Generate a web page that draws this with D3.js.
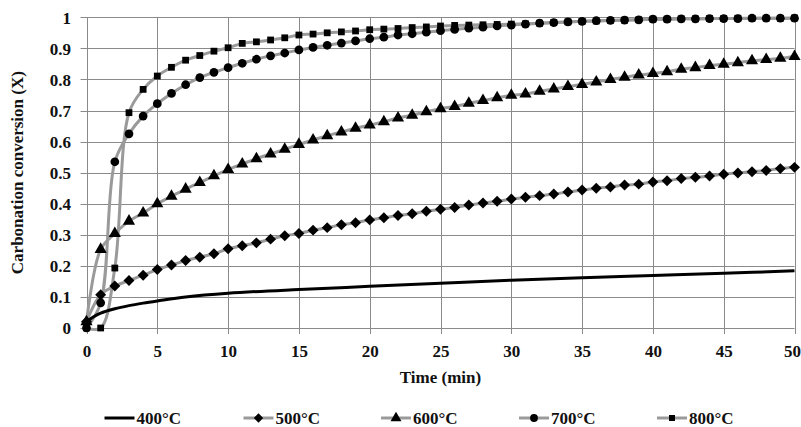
<!DOCTYPE html>
<html>
<head>
<meta charset="utf-8">
<script src="https://cdn.jsdelivr.net/npm/d3@7"></script>
<style>
  html, body { margin: 0; padding: 0; background: #fff; }
  svg { display: block; }
  text { font-family: "Liberation Serif", "Times New Roman", serif; font-weight: bold; fill: #111; }
</style>
</head>
<body>
<svg id="chart" width="801" height="427"></svg>
<script>
// Time axis (min) shared by the marker series, one reading per minute
const minutes = d3.range(0, 51);

// 400 °C is drawn as a plain smooth line; its readings are at these times
const times400 = [0, 0.5, 1, 2, 3, 4, 5, 7, 10, 15, 20, 25, 30, 35, 40, 45, 50];
const conv400 = [0.02, 0.036, 0.048, 0.062, 0.072, 0.080, 0.087, 0.100, 0.112, 0.124, 0.134, 0.144, 0.154, 0.162, 0.169, 0.176, 0.184];

const conv500 = [0.02, 0.107, 0.135, 0.153, 0.170, 0.188, 0.203, 0.217, 0.228, 0.239, 0.255,
  0.265, 0.274, 0.286, 0.297, 0.304, 0.315, 0.323, 0.332, 0.339, 0.348,
  0.355, 0.362, 0.368, 0.376, 0.382, 0.388, 0.396, 0.402, 0.408, 0.415,
  0.421, 0.426, 0.431, 0.438, 0.444, 0.450, 0.454, 0.460, 0.463, 0.470,
  0.474, 0.481, 0.485, 0.489, 0.495, 0.499, 0.503, 0.507, 0.513, 0.517];

const conv600 = [0.02, 0.253, 0.304, 0.344, 0.370, 0.400, 0.424, 0.447, 0.468, 0.490, 0.510,
  0.528, 0.545, 0.560, 0.575, 0.591, 0.605, 0.619, 0.631, 0.643, 0.653,
  0.664, 0.676, 0.685, 0.696, 0.706, 0.713, 0.723, 0.732, 0.741, 0.749,
  0.753, 0.762, 0.769, 0.777, 0.784, 0.792, 0.800, 0.807, 0.814, 0.819,
  0.825, 0.833, 0.838, 0.845, 0.849, 0.854, 0.860, 0.864, 0.868, 0.874];

const conv700 = [0, 0.081, 0.535, 0.625, 0.682, 0.722, 0.755, 0.783, 0.806, 0.823, 0.838,
  0.852, 0.865, 0.876, 0.885, 0.895, 0.903, 0.910, 0.917, 0.924, 0.931,
  0.936, 0.943, 0.947, 0.952, 0.957, 0.961, 0.965, 0.968, 0.972, 0.975,
  0.978, 0.981, 0.983, 0.985, 0.987, 0.989, 0.990, 0.991, 0.992, 0.994,
  0.994, 0.995, 0.995, 0.996, 0.996, 0.996, 0.997, 0.997, 0.997, 0.997];

const conv800 = [0, 0, 0.193, 0.693, 0.768, 0.811, 0.839, 0.862, 0.877, 0.891, 0.902,
  0.916, 0.921, 0.927, 0.934, 0.943, 0.946, 0.950, 0.953, 0.956, 0.960,
  0.962, 0.964, 0.967, 0.969, 0.972, 0.974, 0.975, 0.976, 0.977, 0.978,
  0.979, 0.981, 0.983, 0.985, 0.987, 0.988, 0.990, 0.991, 0.992, 0.994,
  0.994, 0.995, 0.995, 0.996, 0.996, 0.997, 0.997, 0.997, 0.997, 0.998];

const xTicks = [0, 5, 10, 15, 20, 25, 30, 35, 40, 45, 50];
const yTicks = [0, 0.1, 0.2, 0.3, 0.4, 0.5, 0.6, 0.7, 0.8, 0.9, 1];
const legendLabels = ["400°C", "500°C", "600°C", "700°C", "800°C"];

const svg = d3.select("#chart");
const x = d3.scaleLinear().domain([0, 50]).range([86.5, 794.5]);
const y = d3.scaleLinear().domain([0, 1]).range([328, 17.3]);

const gridColor = "#8a8a8a";
const seriesGrey = "#9a9a9a";

// Gridlines
const grid = svg.append("g");
grid.selectAll("line.h").data(yTicks).join("line")
  .attr("x1", x(0) - 6).attr("x2", x(50))
  .attr("y1", d => Math.round(y(d)) + 0.5).attr("y2", d => Math.round(y(d)) + 0.5)
  .attr("stroke", gridColor).attr("stroke-width", 1);
grid.selectAll("line.v").data(xTicks).join("line")
  .attr("x1", d => Math.round(x(d)) + 0.5).attr("x2", d => Math.round(x(d)) + 0.5)
  .attr("y1", y(1)).attr("y2", y(0) + 6)
  .attr("stroke", gridColor).attr("stroke-width", 1);

// Axes (labels only; lines come from the grid above)
const xAxis = d3.axisBottom(x).tickValues(xTicks).tickSize(0).tickPadding(0).tickFormat(d3.format("d"));
svg.append("g").attr("transform", "translate(0,345)").call(xAxis)
  .call(g => g.select(".domain").remove())
  .selectAll("text").attr("font-size", 17).attr("dy", "0.72em")
  .attr("dx", d => d === 50 ? -2.5 : 0)
  .style("font-family", "'Liberation Serif', serif").style("font-weight", "bold").attr("fill", "#111");

const yAxis = d3.axisLeft(y).tickValues(yTicks).tickSize(0).tickPadding(0)
  .tickFormat(d => d === 0 || d === 1 ? d3.format("d")(d) : d3.format(".1f")(d));
svg.append("g").attr("transform", "translate(71,0)").call(yAxis)
  .call(g => g.select(".domain").remove())
  .selectAll("text").attr("font-size", 17).attr("dy", "0.35em")
  .style("font-family", "'Liberation Serif', serif").style("font-weight", "bold").attr("fill", "#111");

// Axis titles
svg.append("text").attr("x", (x(0) + x(50)) / 2).attr("y", 377).attr("dy", "0.35em")
  .attr("text-anchor", "middle").attr("font-size", 17).text("Time (min)");
svg.append("text").attr("transform", `translate(17.5,${(y(0) + y(1)) / 2}) rotate(-90)`)
  .attr("dy", "0.35em").attr("text-anchor", "middle").attr("font-size", 17)
  .text("Carbonation conversion (X)");

const line = d3.line().x(d => x(d[0])).y(d => y(d[1])).curve(d3.curveCatmullRom.alpha(0.5));

// Diamonds are squares turned 45°, so they are as wide as they are tall
const markerSeries = [
  { vals: conv500, shape: d3.symbolSquare, size: 60, rot: 45 },
  { vals: conv600, shape: d3.symbolTriangle, size: 64, rot: 0 },
  { vals: conv700, shape: d3.symbolCircle, size: 60, rot: 0 },
  { vals: conv800, shape: d3.symbolSquare, size: 46, rot: 0 }
];

const plot = svg.append("g");

// Grey smoothed lines first, markers on top
markerSeries.forEach(s => {
  const pts = minutes.map((t, i) => [t, s.vals[i]]);
  plot.append("path").datum(pts).attr("d", line)
    .attr("fill", "none").attr("stroke", seriesGrey).attr("stroke-width", 3);
});
markerSeries.forEach(s => {
  const pts = minutes.map((t, i) => [t, s.vals[i]]);
  plot.append("g").selectAll("path").data(pts).join("path")
    .attr("transform", d => `translate(${x(d[0])},${y(d[1])}) rotate(${s.rot})`)
    .attr("d", d3.symbol().type(s.shape).size(s.size))
    .attr("fill", "#000");
});

// 400 °C black line
plot.append("path").datum(times400.map((t, i) => [t, conv400[i]])).attr("d", line)
  .attr("fill", "none").attr("stroke", "#000").attr("stroke-width", 3);

// Legend
const legendX = [104.5, 243.5, 381, 519, 657];
const legendShapes = [null, d3.symbolSquare, d3.symbolTriangle, d3.symbolCircle, d3.symbolSquare];
const legendSizes = [0, 44, 52, 48, 36];
const legendRot = [0, 45, 0, 0, 0];
const ly = 418;
const lg = svg.append("g");
legendLabels.forEach((lab, i) => {
  const g = lg.append("g").attr("transform", `translate(${legendX[i]},${ly})`);
  g.append("line").attr("x1", 0).attr("x2", 30).attr("y1", 0).attr("y2", 0)
    .attr("stroke", i === 0 ? "#000" : seriesGrey).attr("stroke-width", 3);
  if (legendShapes[i]) {
    g.append("path").attr("transform", `translate(15,0) rotate(${legendRot[i]})`)
      .attr("d", d3.symbol().type(legendShapes[i]).size(legendSizes[i])).attr("fill", "#000");
  }
  g.append("text").attr("x", 32).attr("dy", "0.35em").attr("font-size", 17).text(lab);
});
</script>
</body>
</html>
